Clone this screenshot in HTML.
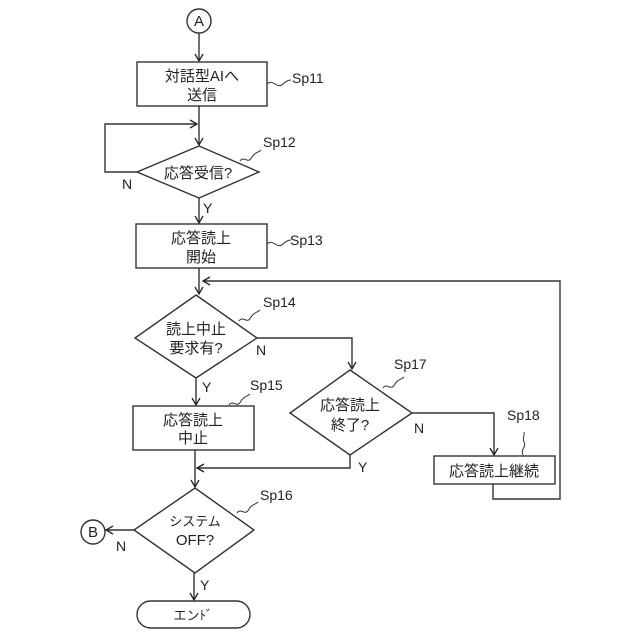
<!DOCTYPE html>
<html><head><meta charset="utf-8"><style>
body{margin:0;background:#fff}
svg{display:block}
text{font-family:"Liberation Sans","Noto Sans CJK JP",sans-serif;fill:#222}
</style></head><body>
<svg width="640" height="640" viewBox="0 0 640 640" xmlns="http://www.w3.org/2000/svg">
<defs><marker id="a" markerWidth="10" markerHeight="10" refX="8" refY="5" orient="auto" markerUnits="userSpaceOnUse"><path d="M1,1 L8,5 L1,9" fill="none" stroke="#222" stroke-width="1.3"/></marker></defs>
<g fill="none" stroke="#333" stroke-width="1.4">
<circle cx="199" cy="21" r="12"/>
<line x1="199" y1="33" x2="199" y2="61" marker-end="url(#a)"/>
<rect x="137" y="62" width="130" height="44"/>
<line x1="199" y1="106" x2="199" y2="145" marker-end="url(#a)"/>
<polyline points="137,172 105,172 105,124 197,124" marker-end="url(#a)"/>
<polygon points="199,146 259,172 199,198 137,172"/>
<line x1="199" y1="198" x2="199" y2="223" marker-end="url(#a)"/>
<rect x="136" y="224" width="131" height="44"/>
<line x1="199" y1="268" x2="199" y2="294" marker-end="url(#a)"/>
<polyline points="493,484 493,499 560,499 560,281 203,281" marker-end="url(#a)"/>
<polygon points="196,295 257,338 196,378 135,338"/>
<polyline points="257,338 352,338 352,369" marker-end="url(#a)"/>
<line x1="196" y1="378" x2="196" y2="405" marker-end="url(#a)"/>
<rect x="133" y="406" width="121" height="44"/>
<line x1="195" y1="450" x2="195" y2="487" marker-end="url(#a)"/>
<polyline points="350,455 350,468 197,468" marker-end="url(#a)"/>
<polygon points="350,370 412,413 350,455 290,413"/>
<polyline points="412,413 494,413 494,455" marker-end="url(#a)"/>
<rect x="434" y="456" width="121" height="28"/>
<polygon points="195,488 254,530 195,573 134,530"/>
<line x1="134" y1="530" x2="106" y2="530" marker-end="url(#a)"/>
<circle cx="93" cy="532" r="12"/>
<line x1="194" y1="573" x2="194" y2="600" marker-end="url(#a)"/>
<rect x="137" y="601" width="113" height="27" rx="13.5"/>
<g stroke-width="1">
<path d="M267,84 c6,-6 10,6 16,0 c3,-3 5,-4 8,-4"/>
<path d="M240,161 c4,-6 8,4 12,-4 c3,-5 6,-4 9,-7"/>
<path d="M267,244 c6,-6 10,6 16,0 c3,-3 5,-4 8,-4"/>
<path d="M239,321 c4,-6 8,4 12,-4 c3,-5 6,-4 9,-7"/>
<path d="M229,405 c4,-6 8,4 12,-4 c3,-5 6,-4 9,-7"/>
<path d="M237,513 c4,-6 8,4 12,-4 c3,-5 6,-4 9,-7"/>
<path d="M383,388 c4,-6 8,4 12,-4 c3,-5 6,-4 9,-7"/>
<path d="M523,455 c-3,-6 4,-8 1,-13 c-2,-4 1,-6 0,-10"/>
</g>
</g>
<g font-size="15" text-anchor="middle">
<text x="199" y="26">A</text>
<text x="202" y="81">対話型AIへ</text>
<text x="202" y="100">送信</text>
<text x="198" y="178">応答受信?</text>
<text x="201" y="243">応答読上</text>
<text x="201" y="262">開始</text>
<text x="196" y="334">読上中止</text>
<text x="196" y="353">要求有?</text>
<text x="193" y="425">応答読上</text>
<text x="193" y="443">中止</text>
<text x="350" y="410">応答読上</text>
<text x="350" y="430">終了?</text>
<text x="494" y="476">応答読上継続</text>
<text x="195" y="526" font-size="13">システム</text>
<text x="195" y="545">OFF?</text>
<text x="93" y="537">B</text>
<text x="193" y="620" font-size="13">エンﾄﾞ</text>
</g>
<g font-size="14">
<text x="292" y="83">Sp11</text>
<text x="263" y="147">Sp12</text>
<text x="290" y="245">Sp13</text>
<text x="263" y="307">Sp14</text>
<text x="250" y="390">Sp15</text>
<text x="260" y="500">Sp16</text>
<text x="394" y="369">Sp17</text>
<text x="507" y="420">Sp18</text>
<text x="122" y="189">N</text>
<text x="203" y="213">Y</text>
<text x="256" y="355">N</text>
<text x="202" y="392">Y</text>
<text x="414" y="433">N</text>
<text x="358" y="472">Y</text>
<text x="116" y="551">N</text>
<text x="200" y="590">Y</text>
</g>
</svg>
</body></html>
